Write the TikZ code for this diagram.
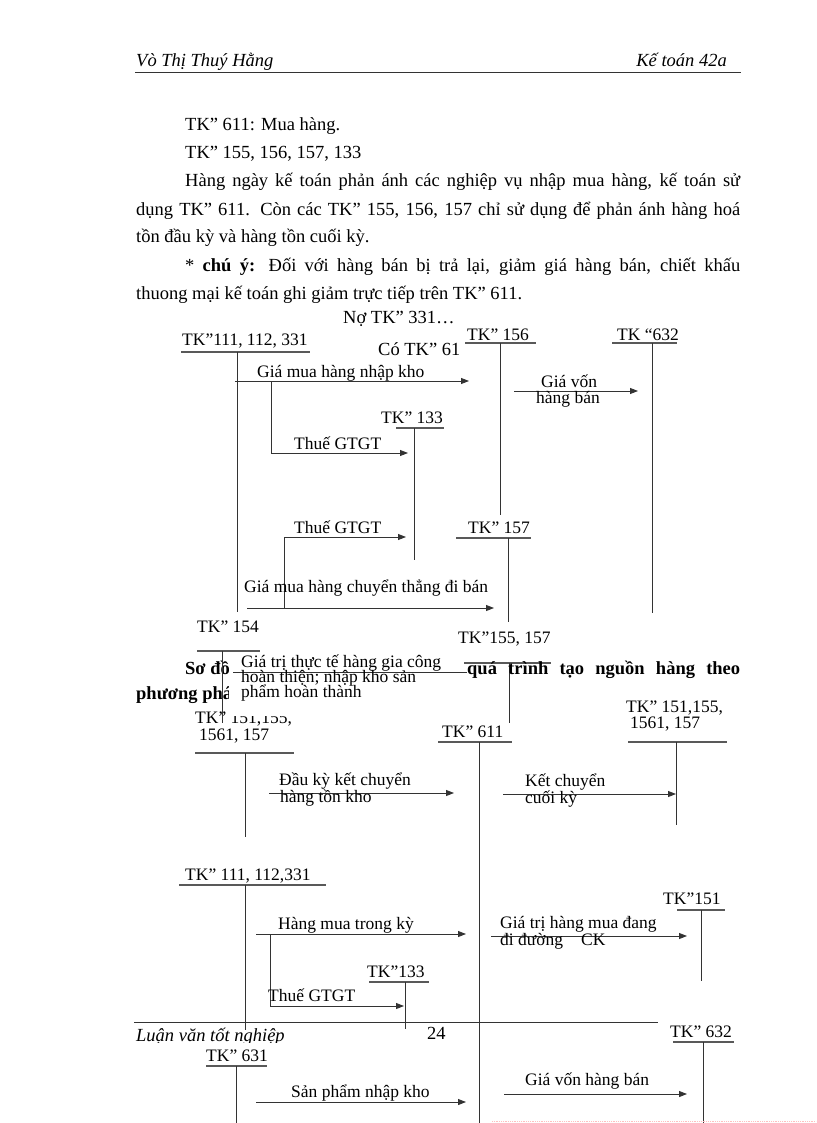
\documentclass[tikz,border=0pt]{standalone}
\usepackage{fontspec}
\setmainfont{Liberation Serif}
\usetikzlibrary{arrows.meta}
\begin{document}
\begin{tikzpicture}[x=1pt,y=-1pt,
 body/.style={font=\fontsize{18.5}{22}\selectfont, inner sep=0pt, anchor=base west},
 bodyr/.style={font=\fontsize{18.5}{22}\selectfont, inner sep=0pt, anchor=base east},
 lbl/.style={font=\fontsize{17.5}{20}\selectfont, inner sep=0pt, anchor=base west},
 ln/.style={line width=0.9pt, draw=black!80},
 ul/.style={line width=1.1pt, draw=black!65},
 arr/.style={ln, -{Triangle[length=8pt,width=6pt]}},
 mask/.style={fill=white, draw=none},
]
\useasboundingbox[fill=white] (0,0) rectangle (816,1123);

% ---------- header ----------
\node[body, font=\fontsize{18.5}{22}\selectfont\itshape] (hdrL) at (136,67) {Vò Thị Thuý Hằng};
\node[bodyr, font=\fontsize{18.5}{22}\selectfont\itshape] (hdrR) at (727,67) {Kế toán 42a};
\coordinate (hrA) at (135,72); \coordinate (hrB) at (741,72);
\draw[line width=0.9pt, black!80] (hrA) -- (hrB);

% ---------- body text ----------
\node[body] (b1) at (185,131) {TK” 611: Mua hàng.};
\node[body] (b2) at (185,159) {TK” 155, 156, 157, 133};
\node[body] (b3) at (185,187) {\makebox[555pt][s]{Hàng ngày kế toán phản ánh các nghiệp vụ nhập mua hàng, kế toán sử}};
\node[body] (b4) at (136,215) {\makebox[604pt][s]{dụng TK” 611. Còn các TK” 155, 156, 157 chỉ sử dụng để phản ánh hàng hoá}};
\node[body] (b5) at (136,243) {tồn đầu kỳ và hàng tồn cuối kỳ.};
\node[body] (b6) at (185,271) {\makebox[555pt][s]{* \textbf{chú ý:} Đối với hàng bán bị trả lại, giảm giá hàng bán, chiết khấu}};
\node[body] (b7) at (136,299) {thuong mại kế toán ghi giảm trực tiếp trên TK” 611.};
\node[body] (no) at (343,323) {Nợ TK” 331…};
\node[body] (co) at (378,355) {Có TK” 611};
\fill[mask] (459,322) rectangle (475,362);

% ---------- diagram 1 ----------
\node[lbl] (t111) at (182,345) {TK”111, 112, 331};
\node[lbl] (t156) at (467,340) {TK” 156};
\node[lbl] (t632) at (617,340) {TK “632};
\node[lbl] (t133) at (381,423) {TK” 133};
\node[lbl] (t157) at (468,533) {TK” 157};
\node[lbl] (t154) at (197,632) {TK” 154};
\node[lbl] (t155) at (458,643) {TK”155, 157};

\coordinate (u111a) at (181,352); \coordinate (u111b) at (310,352);
\coordinate (v111a) at (237,352); \coordinate (v111b) at (237,612);
\coordinate (u156a) at (465,343); \coordinate (u156b) at (536,343);
\coordinate (v156a) at (500,343); \coordinate (v156b) at (500,515);
\coordinate (u632a) at (612,343); \coordinate (u632b) at (677,343);
\coordinate (v632a) at (652,343); \coordinate (v632b) at (652,613);
\coordinate (u133a) at (396,428); \coordinate (u133b) at (444,428);
\coordinate (v133a) at (414,428); \coordinate (v133b) at (414,560);
\coordinate (u157a) at (456,538); \coordinate (u157b) at (531,538);
\coordinate (v157a) at (508,538); \coordinate (v157b) at (508,622);
\coordinate (u154a) at (197,651); \coordinate (u154b) at (260,651);
\coordinate (v154a) at (222,651); \coordinate (v154b) at (222,723);
\coordinate (u155a) at (464,663); \coordinate (u155b) at (551,663);
\coordinate (v155a) at (509,663); \coordinate (v155b) at (509,723);

\foreach \a/\b in {u111a/u111b,u156a/u156b,u632a/u632b,u133a/u133b,u157a/u157b,u154a/u154b,u155a/u155b}
  \draw[ul] (\a) -- (\b);
\foreach \a/\b in {v111a/v111b,v156a/v156b,v632a/v632b,v133a/v133b,v157a/v157b,v154a/v154b,v155a/v155b}
  \draw[ln] (\a) -- (\b);

\coordinate (a1s) at (235,381); \coordinate (a1e) at (469,381);
\draw[arr] (a1s) -- (a1e);
\node[lbl] (l1) at (257,377) {Giá mua hàng nhập kho};

\coordinate (gvs) at (514,391); \coordinate (gve) at (638,391);
\draw[arr] (gvs) -- (gve);
\node[lbl] (l2a) at (541,387) {Giá vốn};
\node[lbl] (l2b) at (536,403) {hàng bán};

\coordinate (br1s) at (271,381); \coordinate (br1c) at (271,453); \coordinate (br1e) at (408,453);
\draw[arr] (br1s) -- (br1c) -- (br1e);
\node[lbl] (l3) at (294,449) {Thuế GTGT};

\coordinate (br2s) at (284,608); \coordinate (br2c) at (284,537); \coordinate (br2e) at (406,537);
\draw[arr] (br2s) -- (br2c) -- (br2e);
\node[lbl] (l4) at (294,533) {Thuế GTGT};

\coordinate (cts) at (247,608); \coordinate (cte) at (494,608);
\draw[arr] (cts) -- (cte);
\node[lbl] (l5) at (244,592) {Giá mua hàng chuyển thẳng đi bán};

% ---------- Sơ đồ paragraph (partly hidden) ----------
\node[body, font=\fontsize{18.5}{22}\selectfont\bfseries] (sd1) at (185,674) {Sơ đồ};
\node[body, font=\fontsize{18.5}{22}\selectfont\bfseries] (sd3) at (136,699) {phương pháp};
\node[lbl] (tl151a) at (195,723) {TK” 151,155,};
\node[lbl] (tl151b) at (199,740) {1561, 157};
\fill[mask] (229,653) rectangle (460,716);
\draw[ln] (v154a) -- (v154b);
\coordinate (gts) at (233,672); \coordinate (gte) at (467,672);
\draw[ln] (gts) -- (gte);
\node[lbl] (l6a) at (241,667) {Giá trị thực tế hàng gia công};
\node[lbl] (l6b) at (241,682) {hoàn thiện; nhập kho sản};
\node[lbl] (l6c) at (241,697) {phẩm hoàn thành};
\node[body, font=\fontsize{18.5}{22}\selectfont\bfseries] (sd2) at (467,674) {\makebox[273pt][s]{quá trình tạo nguồn hàng theo}};

% ---------- diagram 2 ----------
\node[lbl] (t611) at (442,737) {TK” 611};
\node[lbl] (tr151a) at (626,712) {TK” 151,155,};
\node[lbl] (tr151b) at (630,728) {1561, 157};
\coordinate (uL1a) at (195,753); \coordinate (uL1b) at (294,753);
\coordinate (vL1a) at (245,753); \coordinate (vL1b) at (245,837);
\coordinate (u611a) at (438,742); \coordinate (u611b) at (512,742);
\coordinate (v611a) at (479,742); \coordinate (v611b) at (479,1123);
\coordinate (uR1a) at (628,742); \coordinate (uR1b) at (727,742);
\coordinate (vR1a) at (676,742); \coordinate (vR1b) at (676,825);
\foreach \a/\b in {uL1a/uL1b,u611a/u611b,uR1a/uR1b}
  \draw[ul] (\a) -- (\b);
\foreach \a/\b in {vL1a/vL1b,v611a/v611b,vR1a/vR1b}
  \draw[ln] (\a) -- (\b);

\coordinate (dks) at (269,793); \coordinate (dke) at (454,793);
\draw[arr] (dks) -- (dke);
\node[lbl] (l7a) at (279,785) {Đầu kỳ kết chuyển};
\node[lbl] (l7b) at (280,802) {hàng tồn kho};
\coordinate (kcs) at (503,794); \coordinate (kce) at (676,794);
\draw[arr] (kcs) -- (kce);
\node[lbl] (l8a) at (525,786) {Kết chuyển};
\node[lbl] (l8b) at (525,803) {cuối kỳ};

% ---------- diagram 3 ----------
\node[lbl] (t111b) at (185,880) {TK” 111, 112,331};
\node[lbl] (t133b) at (367,977) {TK”133};
\node[lbl] (t151) at (663,904) {TK”151};
\coordinate (u111ba) at (179,885); \coordinate (u111bb) at (326,885);
\coordinate (v111ba) at (245,885); \coordinate (v111bb) at (245,1030);
\coordinate (u133ba) at (369,982); \coordinate (u133bb) at (429,982);
\coordinate (v133ba) at (405,982); \coordinate (v133bb) at (405,1029);
\coordinate (u151a) at (677,910); \coordinate (u151b) at (725,910);
\coordinate (v151a) at (701,910); \coordinate (v151b) at (701,981);
\foreach \a/\b in {u111ba/u111bb,u133ba/u133bb,u151a/u151b}
  \draw[ul] (\a) -- (\b);
\foreach \a/\b in {v111ba/v111bb,v133ba/v133bb,v151a/v151b}
  \draw[ln] (\a) -- (\b);

\coordinate (hms) at (256,934); \coordinate (hme) at (466,934);
\draw[arr] (hms) -- (hme);
\node[lbl] (l9) at (278,929) {Hàng mua trong kỳ};
\coordinate (br3s) at (270,934); \coordinate (br3c) at (270,1006); \coordinate (br3e) at (404,1006);
\draw[arr] (br3s) -- (br3c) -- (br3e);
\node[lbl] (l10) at (268,1001) {Thuế GTGT};
\coordinate (gms) at (491,936); \coordinate (gme) at (687,936);
\draw[arr] (gms) -- (gme);
\node[lbl] (l11a) at (500,928) {Giá trị hàng mua đang};
\node[lbl] (l11b) at (500,945) {đi đường\hspace{18pt}CK};

% ---------- footer ----------
\coordinate (frA) at (134,1022); \coordinate (frB) at (658,1022);
\draw[line width=0.9pt, black!80] (frA) -- (frB);
\node[body, font=\fontsize{18.5}{22}\selectfont\itshape] (ftL) at (136,1041) {Luận văn tốt nghiệp};
\node[body] (ftN) at (427,1039) {24};
\fill[mask] (130,1043) rectangle (300,1049);

% ---------- diagram 4 ----------
\node[lbl] (t632b) at (670,1037) {TK” 632};
\node[lbl] (t631) at (206,1061) {TK” 631};
\coordinate (u632ba) at (673,1042); \coordinate (u632bb) at (734,1042);
\coordinate (v632ba) at (703,1042); \coordinate (v632bb) at (703,1123);
\coordinate (u631a) at (206,1066); \coordinate (u631b) at (267,1066);
\coordinate (v631a) at (236,1066); \coordinate (v631b) at (236,1123);
\foreach \a/\b in {u632ba/u632bb,u631a/u631b}
  \draw[ul] (\a) -- (\b);
\foreach \a/\b in {v632ba/v632bb,v631a/v631b}
  \draw[ln] (\a) -- (\b);
\coordinate (sps) at (256,1102); \coordinate (spe) at (466,1102);
\draw[arr] (sps) -- (spe);
\node[lbl] (l12) at (291,1097) {Sản phẩm nhập kho};
\coordinate (gbs) at (504,1094); \coordinate (gbe) at (687,1094);
\draw[arr] (gbs) -- (gbe);
\node[lbl] (l13) at (525,1085) {Giá vốn hàng bán};

\coordinate (dtA) at (492,1121); \coordinate (dtB) at (816,1121);
\draw[densely dotted, line width=0.8pt, red!25] (dtA) -- (dtB);
\end{tikzpicture}
\end{document}
